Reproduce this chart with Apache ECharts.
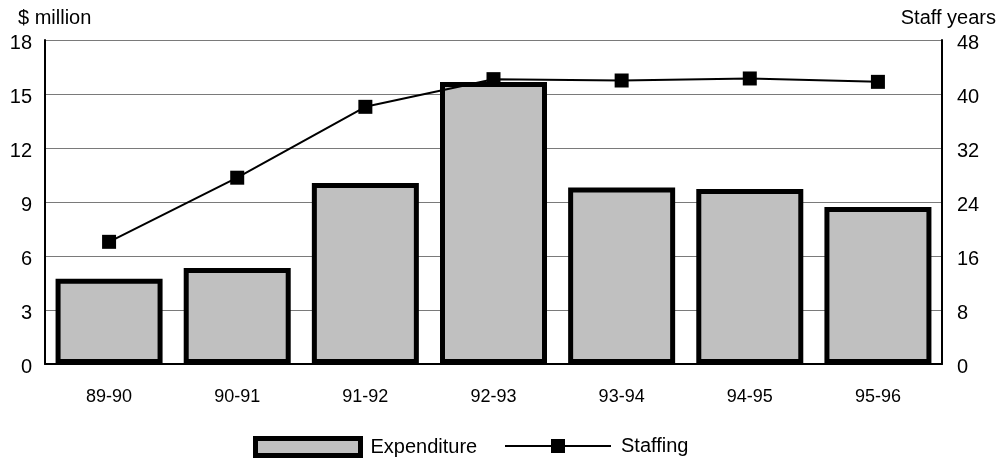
<!DOCTYPE html>
<html>
<head>
<meta charset="utf-8">
<script src="https://cdn.jsdelivr.net/npm/echarts@6/dist/echarts.min.js"></script>
<style>
  html, body { margin: 0; padding: 0; background: #fff; }
  #chart { width: 999px; height: 468px; }
</style>
</head>
<body>
<div id="chart"></div>
<script>
// Financial years on the horizontal axis
const years = ['89-90', '90-91', '91-92', '92-93', '93-94', '94-95', '95-96'];
// Expenditure, $ million (left axis)
const expenditure = [4.73, 5.34, 10.05, 15.67, 9.8, 9.72, 8.72];
// Staffing, staff years (right axis)
const staffing = [18.1, 27.6, 38.1, 42.2, 42.0, 42.3, 41.8];
// Axis tick settings
const leftAxis = { min: 0, max: 18, interval: 3, name: '$ million' };
const rightAxis = { min: 0, max: 48, interval: 8, name: 'Staff years' };

const font = '"Liberation Sans", Arial, sans-serif';
const chart = echarts.init(document.getElementById('chart'));

const legendText = { fontSize: 20, color: '#000', fontFamily: font, padding: [0, 0, 0, 5] };
// Value labels sit a little below their gridlines
const tickRich = { v: { fontSize: 20, color: '#000', fontFamily: font, padding: [7, 0, 0, 0] } };

chart.setOption({
  animation: false,
  textStyle: { fontFamily: font, color: '#000' },
  grid: { left: 45, right: 57, top: 40, bottom: 104 },
  legend: [
    {
      data: [{ name: 'Expenditure', icon: 'rect' }],
      left: 248,
      top: 431,
      itemWidth: 105,
      itemHeight: 17,
      itemStyle: { borderColor: '#000', borderWidth: 5 },
      textStyle: legendText
    },
    {
      data: ['Staffing'],
      left: 499,
      top: 431,
      itemWidth: 106,
      itemHeight: 17.5,
      textStyle: legendText
    }
  ],
  xAxis: {
    type: 'category',
    data: years,
    axisLine: { lineStyle: { color: '#000', width: 2 } },
    axisTick: { show: false },
    axisLabel: { color: '#000', fontSize: 18, margin: 24, fontFamily: font }
  },
  yAxis: [
    {
      type: 'value',
      min: leftAxis.min, max: leftAxis.max, interval: leftAxis.interval,
      name: leftAxis.name,
      nameLocation: 'end',
      nameGap: 12,
      nameTextStyle: { fontSize: 20, color: '#000', align: 'left', padding: [0, 0, 0, -27], fontFamily: font },
      axisLine: { show: true, lineStyle: { color: '#000', width: 2 } },
      axisTick: { show: false },
      axisLabel: { margin: 13, formatter: '{v|{value}}', rich: tickRich },
      splitLine: { lineStyle: { color: '#7a7a7a', width: 1.2 } }
    },
    {
      type: 'value',
      min: rightAxis.min, max: rightAxis.max, interval: rightAxis.interval,
      name: rightAxis.name,
      nameLocation: 'end',
      nameGap: 12,
      nameTextStyle: { fontSize: 20, color: '#000', align: 'right', padding: [0, -54, 0, 0], fontFamily: font },
      axisLine: { show: true, lineStyle: { color: '#000', width: 2 } },
      axisTick: { show: false },
      axisLabel: { margin: 15, formatter: '{v|{value}}', rich: tickRich },
      splitLine: { show: false }
    }
  ],
  series: [
    {
      name: 'Expenditure',
      type: 'bar',
      yAxisIndex: 0,
      data: expenditure,
      barWidth: 107,
      itemStyle: { color: '#c0c0c0', borderColor: '#000', borderWidth: 5 }
    },
    {
      name: 'Staffing',
      type: 'line',
      yAxisIndex: 1,
      data: staffing,
      symbol: 'rect',
      symbolSize: 14,
      lineStyle: { color: '#000', width: 2 },
      itemStyle: { color: '#000' },
      z: 5
    }
  ]
});
</script>
</body>
</html>
